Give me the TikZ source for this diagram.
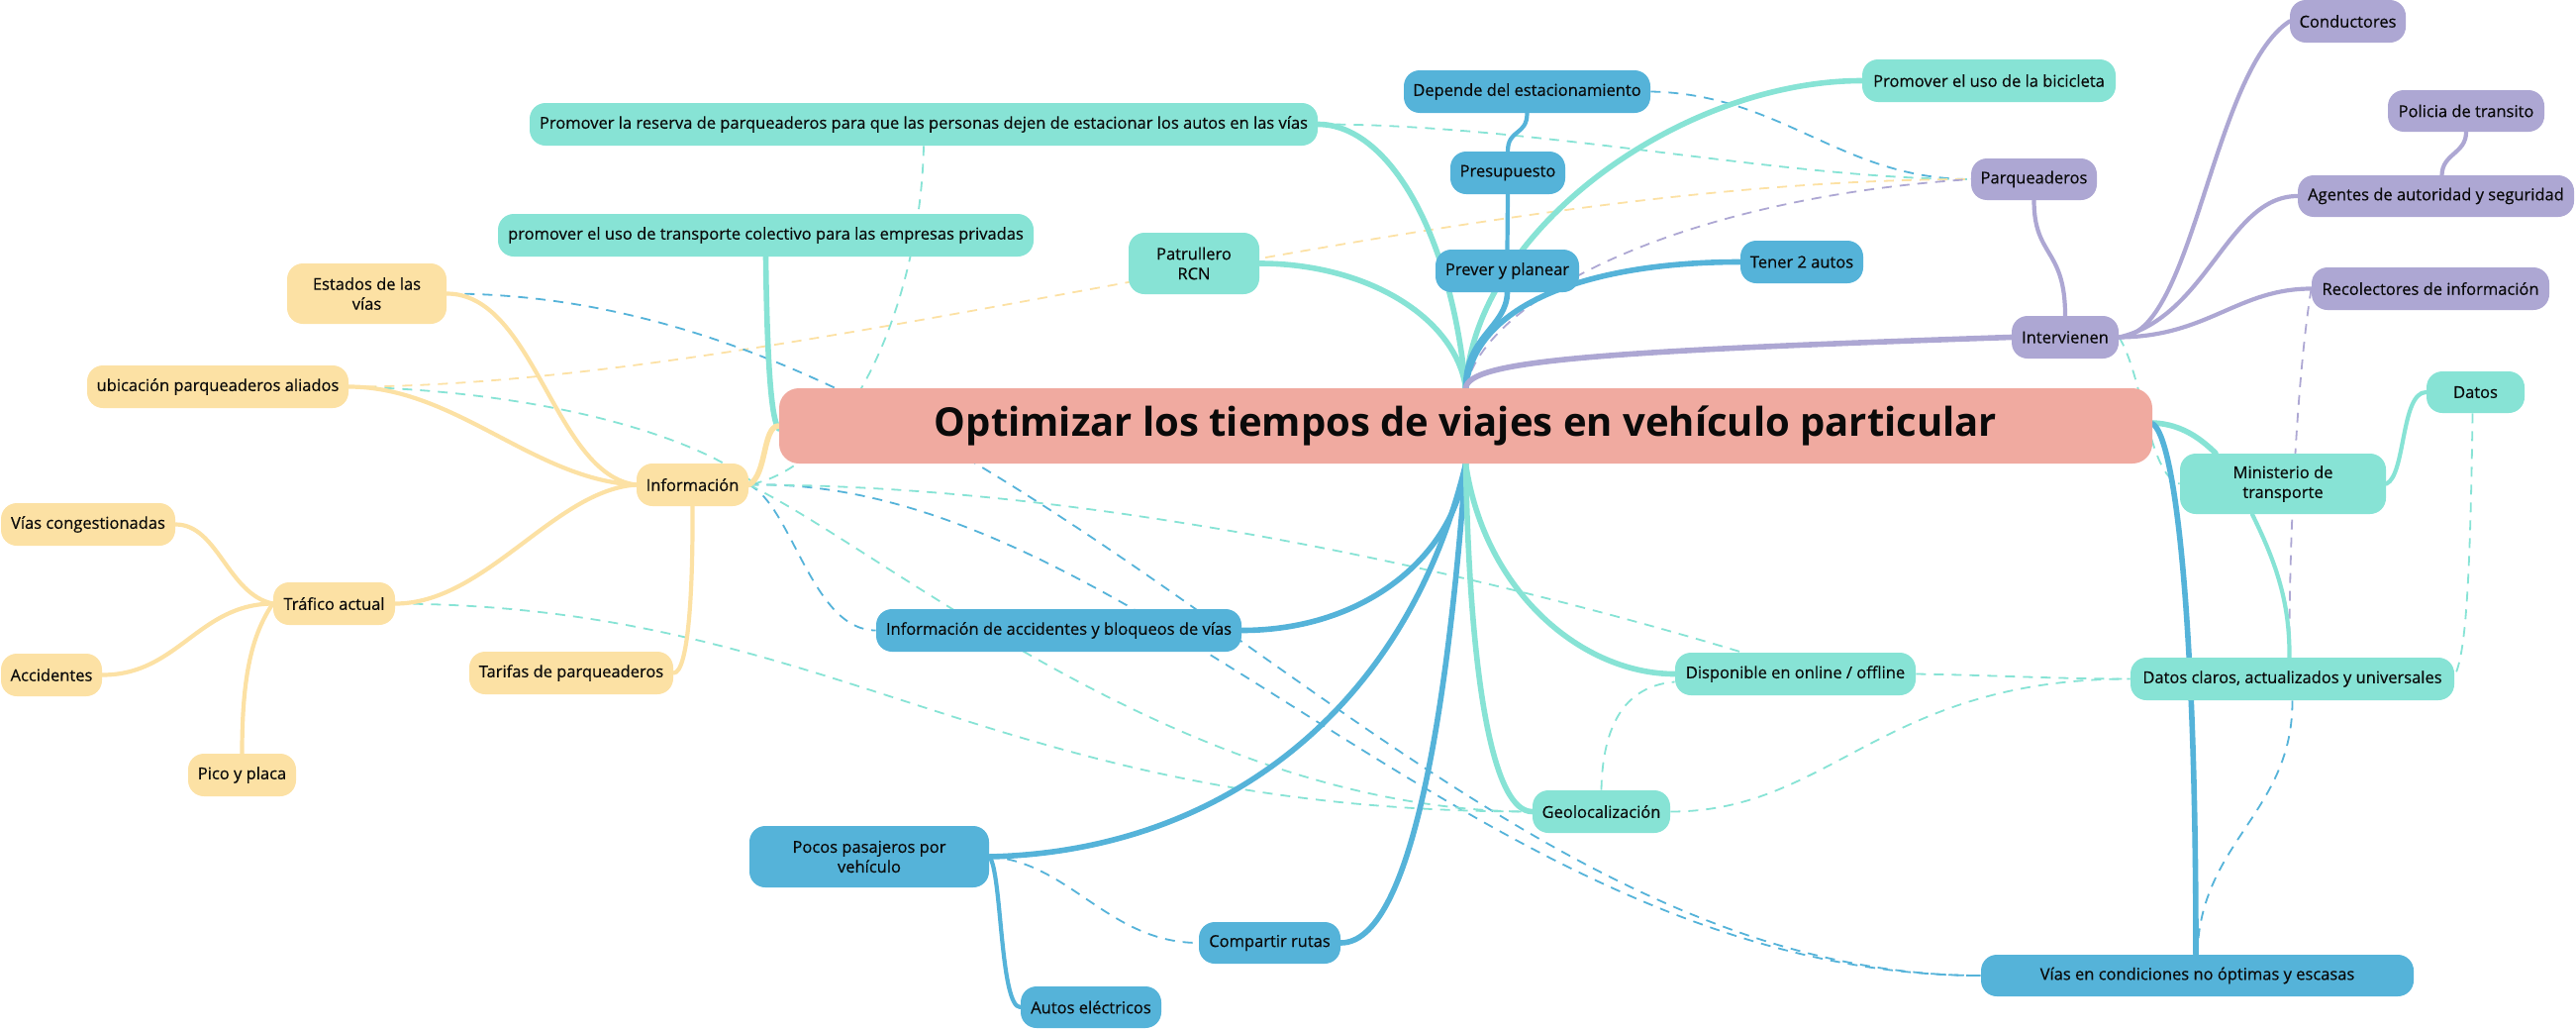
\documentclass[tikz,border=0pt]{standalone}
\usepackage{fontspec}
\setmainfont{Open Sans}
\newfontface\ndfont{Open Sans}[FakeBold=0.45]
\usetikzlibrary{backgrounds}
\definecolor{tealc}{HTML}{87E3D5}
\definecolor{bluec}{HTML}{55B3D9}
\definecolor{purpc}{HTML}{ADA7D3}
\definecolor{yellc}{HTML}{FCE1A4}
\definecolor{centc}{HTML}{F0AAA0}
\definecolor{txt}{HTML}{0A0A0A}
\tikzset{
  nd/.style 2 args={rectangle, rounded corners=8pt, draw=none, minimum width=#1*0.5pt, minimum height=#2*0.5pt,
    inner sep=0pt, align=center, text=txt, font=\ndfont\fontsize{8.25}{10}\selectfont},
  mainln/.style={line width=2.8pt, line cap=round},
  subln/.style={line width=2.1pt, line cap=round},
  rel/.style={line width=0.9pt, dash pattern=on 5pt off 4pt}
}
\begin{document}
\begin{tikzpicture}[x=0.5pt,y=-0.5pt]
\useasboundingbox (0,0) rectangle (2602,1039);
% central
\node[nd={1387}{76}, fill=centc, rounded corners=10pt, font=\fontsize{20}{24}\selectfont\bfseries] (C) at (1480.5,430) {Optimizar los tiempos de viajes en vehículo particular};
% teal
\node[nd={796}{43}, fill=tealc] (T1) at (933,125.5) {Promover la reserva de parqueaderos para que las personas dejen de estacionar los autos en las vías};
\node[nd={541}{43}, fill=tealc] (T2) at (773.5,237.5) {promover el uso de transporte colectivo para las empresas privadas};
\node[nd={132}{62}, fill=tealc] (T3) at (1206,266) {Patrullero\\RCN};
\node[nd={256}{43}, fill=tealc] (T4) at (2009,81.5) {Promover el uso de la bicicleta};
\node[nd={208}{61}, fill=tealc] (T5) at (2306,488.5) {Ministerio de\\transporte};
\node[nd={99}{42}, fill=tealc] (T6) at (2500.5,396) {Datos};
\node[nd={243}{43}, fill=tealc] (T7) at (1813.5,680.5) {Disponible en online / offline};
\node[nd={327}{43}, fill=tealc] (T8) at (2315.5,685.5) {Datos claros, actualizados y universales};
\node[nd={139}{43}, fill=tealc] (T9) at (1617.5,819.5) {Geolocalización};
% blue
\node[nd={249}{43}, fill=bluec] (B1) at (1542.5,92.5) {Depende del estacionamiento};
\node[nd={116}{43}, fill=bluec] (B2) at (1523,174.5) {Presupuesto};
\node[nd={145}{43}, fill=bluec] (B3) at (1522.5,273.5) {Prever y planear};
\node[nd={124}{43}, fill=bluec] (B4) at (1820,264.5) {Tener 2 autos};
\node[nd={369}{43}, fill=bluec] (B5) at (1069.5,636.5) {Información de accidentes y bloqueos de vías};
\node[nd={242}{62}, fill=bluec] (B6) at (878,865) {Pocos pasajeros por\\vehículo};
\node[nd={143}{42}, fill=bluec] (B7) at (1282.5,952) {Compartir rutas};
\node[nd={142}{42}, fill=bluec] (B8) at (1102,1017) {Autos eléctricos};
\node[nd={437}{42}, fill=bluec] (B9) at (2219.5,985) {Vías en condiciones no óptimas y escasas};
% purple
\node[nd={117}{43}, fill=purpc] (P1) at (2371.5,21.5) {Conductores};
\node[nd={158}{42}, fill=purpc] (P2) at (2491,112) {Policia de transito};
\node[nd={127}{42}, fill=purpc] (P3) at (2054.5,181) {Parqueaderos};
\node[nd={279}{42}, fill=purpc] (P4) at (2460.5,198) {Agentes de autoridad y seguridad};
\node[nd={240}{43}, fill=purpc] (P5) at (2455,291.5) {Recolectores de información};
\node[nd={108}{43}, fill=purpc] (P6) at (2086,340.5) {Intervienen};
% yellow
\node[nd={161}{61}, fill=yellc] (Y1) at (370.5,296.5) {Estados de las\\vías};
\node[nd={264}{43}, fill=yellc] (Y2) at (220,390.5) {ubicación parqueaderos aliados};
\node[nd={113}{43}, fill=yellc] (Y3) at (699.5,489.5) {Información};
\node[nd={176}{43}, fill=yellc] (Y4) at (89,529.5) {Vías congestionadas};
\node[nd={123}{43}, fill=yellc] (Y5) at (337.5,609.5) {Tráfico actual};
\node[nd={102}{43}, fill=yellc] (Y6) at (52,681.5) {Accidentes};
\node[nd={206}{43}, fill=yellc] (Y7) at (577,679.5) {Tarifas de parqueaderos};
\node[nd={109}{43}, fill=yellc] (Y8) at (244.5,782.5) {Pico y placa};

\begin{scope}[on background layer]
% relationships (dashed)
\draw[rel, bluec] (B1.east) .. controls (1800,95) and (1860,181) .. (P3.west);
\draw[rel, tealc] (T1.east) .. controls (1550,125) and (1800,181) .. (P3.west);
\draw[rel, yellc] (Y2.east) .. controls (800,390) and (1450,181) .. (P3.west);
\draw[rel, purpc] (C.north) .. controls (1500,300) and (1700,200) .. (P3.west);
\draw[rel, tealc] (T1.south) .. controls (930,300) and (860,470) .. (Y3.east);
\draw[rel, tealc] (Y2.east) .. controls (550,395) and (700,440) .. ([shift={(2,-4)}]Y3.east);
\draw[rel, bluec] (Y1.east) .. controls (1050,296) and (1450,985) .. (B9.west);
\draw[rel, bluec] (Y3.east) .. controls (1150,480) and (1500,985) .. (B9.west);
\draw[rel, bluec] (Y3.east) .. controls (800,510) and (820,636.5) .. (B5.west);
\draw[rel, tealc] (Y3.east) .. controls (1100,489) and (1500,580) .. ([shift={(-54,0)}]T7.north);
\draw[rel, tealc] (Y3.east) .. controls (900,560) and (1200,819.5) .. (T9.west);
\draw[rel, tealc] (Y5.east) .. controls (850,612) and (1000,819.5) .. (T9.west);
\draw[rel, bluec] (B6.east) .. controls (1080,870) and (1120,952) .. (B7.west);
\draw[rel, tealc] (T9.north) .. controls (1619,720) and (1650,692) .. ([shift={(0,8)}]T7.west);
\draw[rel, tealc] (T9.east) .. controls (1850,819.5) and (1900,685.5) .. (T8.west);
\draw[rel, tealc] (T7.east) .. controls (2020,682) and (2080,685.5) .. (T8.west);
\draw[rel, tealc] ([shift={(-3,0)}]T6.south) .. controls (2495,600) and (2490,660) .. ([shift={(0,-3)}]T8.east);
\draw[rel, purpc] (P5.west) .. controls (2320,380) and (2312,550) .. ([shift={(-3,0)}]T8.north);
\draw[rel, bluec] (T8.south) .. controls (2316,820) and (2222,850) .. (B9.north);
\draw[rel, tealc] (P6.east) .. controls (2165,380) and (2170,480) .. (T5.west);
% tree branches
\draw[mainln, tealc] (C.north) .. controls (1465,230) and (1400,125.5) .. (T1.east);
\draw[mainln, tealc] (C.north) .. controls (1470,320) and (1380,266) .. (T3.east);
\draw[mainln, tealc] (C.north) .. controls (1490,230) and (1700,81.5) .. (T4.west);
\draw[mainln, bluec] (C.north) .. controls (1480,340) and (1522,330) .. (B3.south);
\draw[mainln, bluec] (C.north) .. controls (1490,300) and (1620,264.5) .. (B4.west);
\draw[mainln, purpc] (C.north) .. controls (1485,365) and (1600,355) .. (P6.west);
\draw[mainln, tealc] (T2.south) .. controls (775,380) and (780,425) .. ([shift={(0,3)}]C.west);
\draw[mainln, yellc] (Y3.east) .. controls (775,480) and (770,430) .. (C.west);
\draw[mainln, bluec] (C.south) .. controls (1470,560) and (1380,636.5) .. (B5.east);
\draw[mainln, bluec] (C.south) .. controls (1420,720) and (1230,860) .. (B6.east);
\draw[mainln, bluec] (C.south) .. controls (1462,720) and (1425,952) .. (B7.east);
\draw[mainln, tealc] (C.south) .. controls (1485,700) and (1510,819.5) .. (T9.west);
\draw[mainln, tealc] (C.south) .. controls (1500,600) and (1600,680.5) .. (T7.west);
\draw[mainln, tealc] ([shift={(0,-3)}]C.east) .. controls (2205,428) and (2225,445) .. ([shift={(-68,0)}]T5.north);
\draw[mainln, bluec] ([shift={(0,-2)}]C.east) .. controls (2195,440) and (2218,600) .. ([shift={(-1.5,0)}]B9.north);
\draw[subln, tealc] ([shift={(-31,0)}]T5.south) .. controls (2300,570) and (2313,610) .. ([shift={(-3,0)}]T8.north);
\draw[subln, tealc] (T5.east) .. controls (2430,480) and (2425,396) .. (T6.west);
\draw[subln, bluec] (B3.north) -- (B2.south);
\draw[subln, bluec] (B2.north) .. controls (1523,130) and (1542.5,137) .. (B1.south);
\draw[subln, purpc] (P6.north) .. controls (2086,250) and (2054.5,260) .. (P3.south);
\draw[subln, purpc] (P6.east) .. controls (2215,340) and (2234,73) .. (P1.west);
\draw[subln, purpc] (P6.east) .. controls (2230,320) and (2250,198) .. (P4.west);
\draw[subln, purpc] (P6.east) .. controls (2230,340) and (2260,291.5) .. (P5.west);
\draw[subln, purpc] ([shift={(6,0)}]P4.north) .. controls (2467,155) and (2491,155) .. (P2.south);
\draw[subln, yellc] (Y3.west) .. controls (560,480) and (540,296.5) .. (Y1.east);
\draw[subln, yellc] (Y3.west) .. controls (540,485) and (460,390.5) .. (Y2.east);
\draw[subln, yellc] (Y3.west) .. controls (560,495) and (490,609.5) .. (Y5.east);
\draw[subln, yellc] (Y3.south) .. controls (700,600) and (695,679.5) .. (Y7.east);
\draw[subln, yellc] (Y5.west) .. controls (230,600) and (220,529.5) .. (Y4.east);
\draw[subln, yellc] (Y5.west) .. controls (200,610) and (180,681.5) .. (Y6.east);
\draw[subln, yellc] (Y5.west) .. controls (255,640) and (244.5,680) .. (Y8.north);
\draw[subln, bluec] (B6.east) .. controls (1012,880) and (1010,1017) .. (B8.west);
\end{scope}
\end{tikzpicture}
\end{document}
